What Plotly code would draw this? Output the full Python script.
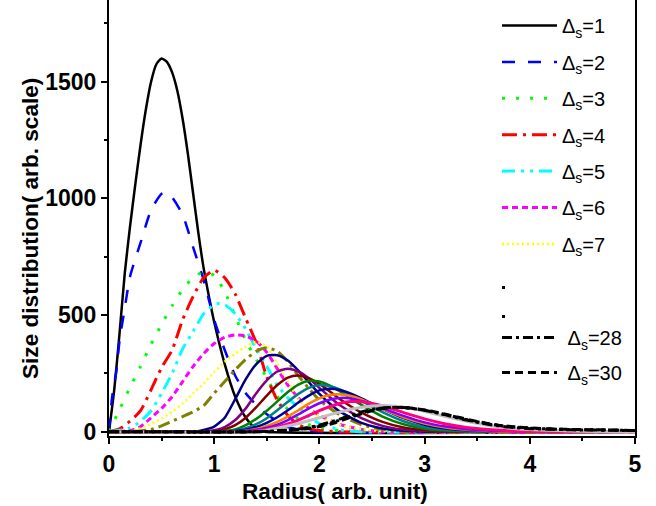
import plotly.graph_objects as go

# ---------------- data ----------------
r1 = [0, 0.05, 0.10, 0.15, 0.20, 0.25, 0.30, 0.35, 0.40, 0.45, 0.50, 0.55, 0.60, 0.65, 0.70, 0.75, 0.80, 0.85, 0.90, 0.95, 1.0, 1.1, 1.2, 1.3, 1.4, 1.5, 5.0]
v1 = [0, 180, 420, 680, 880, 1060, 1230, 1380, 1500, 1575, 1600, 1585, 1540, 1460, 1340, 1190, 1020, 850, 700, 580, 470, 290, 150, 60, 10, 0, 0]

r2 = [0, 0.03, 0.07, 0.1, 0.15, 0.2, 0.3, 0.4, 0.5, 0.55, 0.6, 0.7, 0.8, 0.9, 1.0, 1.1, 1.2, 1.3, 1.4, 1.5, 1.7, 2.0, 5.0]
v2 = [0, 150, 260, 390, 530, 665, 810, 950, 1020, 1025, 1005, 930, 790, 650, 480, 350, 240, 165, 115, 75, 20, 0, 0]

r3 = [0, 0.1, 0.2, 0.3, 0.4, 0.5, 0.6, 0.7, 0.8, 0.9, 1.0, 1.1, 1.2, 1.3, 1.4, 1.5, 1.6, 1.7, 1.8, 1.9, 2.0, 2.2, 2.4, 5.0]
v3 = [0, 95, 190, 280, 375, 460, 540, 610, 660, 685, 670, 600, 495, 390, 310, 230, 150, 95, 55, 30, 15, 4, 0, 0]

r4 = [0, 0.1, 0.2, 0.3, 0.4, 0.5, 0.6, 0.7, 0.8, 0.9, 1.0, 1.1, 1.2, 1.3, 1.4, 1.5, 1.6, 1.7, 1.8, 1.9, 2.0, 2.2, 5.0]
v4 = [0, 12, 45, 90, 180, 275, 350, 480, 580, 660, 692, 660, 590, 485, 380, 235, 135, 70, 30, 12, 5, 0, 0]

r5 = [0, 0.2, 0.3, 0.4, 0.5, 0.6, 0.7, 0.8, 0.9, 1.0, 1.05, 1.1, 1.2, 1.3, 1.4, 1.5, 1.6, 1.7, 1.8, 1.9, 2.0, 2.2, 2.4, 5.0]
v5 = [0, 15, 45, 90, 165, 250, 355, 430, 505, 545, 550, 545, 505, 440, 355, 280, 200, 145, 105, 65, 35, 8, 0, 0]

r6 = [0, 0.2, 0.3, 0.4, 0.5, 0.6, 0.7, 0.8, 0.9, 1.0, 1.1, 1.2, 1.3, 1.4, 1.5, 1.6, 1.7, 1.8, 1.9, 2.0, 2.2, 2.4, 2.6, 5.0]
v6 = [0, 5, 22, 60, 100, 150, 215, 280, 335, 378, 405, 415, 410, 388, 340, 270, 200, 145, 100, 70, 30, 10, 0, 0]

r7 = [0, 0.2, 0.3, 0.4, 0.5, 0.6, 0.7, 0.8, 0.9, 1.0, 1.1, 1.2, 1.3, 1.4, 1.5, 1.6, 1.7, 1.8, 1.9, 2.0, 2.2, 2.4, 2.6, 2.8, 5.0]
v7 = [0, 3, 14, 34, 56, 86, 121, 164, 207, 255, 300, 335, 365, 385, 365, 290, 215, 140, 95, 65, 28, 10, 3, 0, 0]

r8 = [0, 0.2, 0.4, 0.5, 0.6, 0.7, 0.8, 0.9, 1.0, 1.1, 1.2, 1.3, 1.4, 1.5, 1.6, 1.7, 1.8, 1.9, 2.0, 2.2, 2.4, 2.6, 2.8, 5.0]
v8 = [0, 0, 10, 25, 45, 65, 85, 112, 165, 215, 265, 310, 345, 360, 345, 300, 240, 185, 135, 70, 30, 10, 0, 0]

r9 = [0, 0.8, 0.9, 1.0, 1.1, 1.2, 1.3, 1.4, 1.5, 1.6, 1.7, 1.8, 1.9, 2.0, 2.1, 2.2, 2.4, 2.6, 2.8, 3.0, 5.0]
v9 = [0, 0, 8, 22, 60, 140, 225, 290, 325, 328, 305, 262, 212, 162, 120, 85, 38, 14, 4, 0, 0]

r10 = [0, 0.9, 1.0, 1.1, 1.2, 1.3, 1.4, 1.5, 1.6, 1.7, 1.8, 1.9, 2.0, 2.1, 2.2, 2.4, 2.6, 2.8, 3.0, 3.2, 5.0]
v10 = [0, 0, 6, 20, 50, 100, 165, 220, 258, 270, 258, 228, 188, 148, 112, 58, 25, 9, 3, 0, 0]

r11 = [0, 1.0, 1.1, 1.2, 1.3, 1.4, 1.5, 1.6, 1.7, 1.8, 1.9, 2.0, 2.1, 2.2, 2.3, 2.4, 2.6, 2.8, 3.0, 3.2, 3.4, 5.0]
v11 = [0, 0, 10, 28, 60, 105, 155, 200, 232, 241, 230, 205, 172, 138, 108, 82, 42, 18, 7, 2, 0, 0]

r12 = [0, 1.0, 1.2, 1.3, 1.4, 1.5, 1.6, 1.7, 1.8, 1.9, 2.0, 2.1, 2.2, 2.3, 2.4, 2.6, 2.8, 3.0, 3.2, 3.4, 3.6, 5.0]
v12 = [0, 0, 10, 28, 55, 90, 130, 170, 202, 218, 215, 198, 172, 143, 115, 65, 32, 13, 5, 1, 0, 0]

r13 = [0, 1.0, 1.2, 1.3, 1.4, 1.5, 1.6, 1.7, 1.8, 1.9, 2.0, 2.1, 2.2, 2.3, 2.4, 2.6, 2.8, 3.0, 3.2, 3.4, 3.6, 5.0]
v13 = [0, 0, 5, 15, 32, 58, 92, 128, 162, 188, 200, 195, 180, 158, 132, 84, 45, 20, 8, 3, 0, 0]

r14 = [0, 1.1, 1.3, 1.4, 1.5, 1.6, 1.7, 1.8, 1.9, 2.0, 2.1, 2.2, 2.3, 2.4, 2.5, 2.6, 2.8, 3.0, 3.2, 3.4, 3.6, 3.8, 5.0]
v14 = [0, 0, 8, 20, 38, 62, 92, 125, 155, 177, 184, 178, 163, 143, 120, 98, 58, 30, 14, 6, 2, 0, 0]

r15 = [0, 1.2, 1.4, 1.5, 1.6, 1.7, 1.8, 1.9, 2.0, 2.1, 2.2, 2.3, 2.4, 2.5, 2.6, 2.8, 3.0, 3.2, 3.4, 3.6, 3.8, 5.0]
v15 = [0, 0, 12, 25, 42, 65, 92, 120, 143, 157, 160, 153, 138, 118, 98, 62, 35, 18, 8, 3, 0, 0]

r16 = [0, 1.2, 1.4, 1.5, 1.6, 1.7, 1.8, 1.9, 2.0, 2.1, 2.2, 2.3, 2.4, 2.5, 2.6, 2.8, 3.0, 3.2, 3.4, 3.6, 3.8, 4.0, 5.0]
v16 = [0, 0, 8, 17, 30, 50, 74, 100, 122, 138, 145, 142, 132, 117, 100, 68, 40, 22, 11, 5, 2, 0, 0]

r17 = [0, 1.3, 1.5, 1.6, 1.7, 1.8, 1.9, 2.0, 2.1, 2.2, 2.3, 2.4, 2.5, 2.6, 2.8, 3.0, 3.2, 3.4, 3.6, 3.8, 4.0, 4.2, 5.0]
v17 = [0, 0, 10, 20, 33, 50, 70, 90, 108, 122, 129, 128, 121, 110, 82, 55, 33, 18, 9, 4, 1, 0, 0]

r19 = [0, 1.4, 1.6, 1.8, 2.0, 2.2, 2.4, 2.6, 2.8, 3.0, 3.2, 3.4, 3.6, 3.8, 4.0, 4.4, 4.8, 5.0]
v19 = [0, 0, 15, 35, 60, 85, 105, 112, 105, 88, 65, 45, 28, 16, 9, 3, 0, 0]

r28 = [0, 1.4, 1.6, 1.8, 2.0, 2.2, 2.4, 2.6, 2.8, 3.0, 3.2, 3.4, 3.6, 3.8, 4.0, 4.2, 4.4, 4.6, 4.8, 5.0]
v28 = [0, 0, 4, 12, 28, 55, 85, 102, 104, 92, 72, 50, 32, 20, 13, 10, 8, 7, 6, 5]

r29 = [0, 1.45, 1.65, 1.85, 2.05, 2.25, 2.45, 2.65, 2.85, 3.05, 3.25, 3.45, 3.65, 3.85, 4.05, 4.25, 4.45, 4.65, 4.85, 5.0]
v29 = [0, 0, 4, 13, 30, 58, 88, 103, 102, 88, 68, 47, 30, 20, 14, 11, 9, 8, 6, 5]

r30 = [0, 1.5, 1.7, 1.9, 2.1, 2.3, 2.5, 2.7, 2.9, 3.1, 3.3, 3.5, 3.7, 3.9, 4.1, 4.3, 4.5, 4.7, 4.9, 5.0]
v30 = [0, 0, 5, 14, 32, 62, 90, 104, 100, 85, 64, 44, 28, 19, 14, 11, 9, 8, 6, 5]

x_ticks = [0, 1, 2, 3, 4, 5]
y_ticks = [0, 500, 1000, 1500]

# ---------------- figure ----------------
FONT = "Arial, 'Liberation Sans', sans-serif"
fig = go.Figure()

def add(x, y, color, dash, width=2.5):
    fig.add_trace(go.Scatter(
        x=x, y=y, mode="lines",
        line=dict(color=color, dash=dash, width=width, shape="spline", smoothing=0.6),
        showlegend=False, hoverinfo="skip",
    ))

def leg(name, color, dash, legend, rank, width=2.5):
    fig.add_trace(go.Scatter(
        x=[None], y=[None], mode="lines",
        line=dict(color=color, dash=dash, width=width),
        name=name, legend=legend, legendgroup="g%d" % rank, legendrank=rank,
        showlegend=True, hoverinfo="skip",
    ))

sub = lambda n: "\u0394<sub>s</sub>=" + str(n)

DASH2 = "13px,13px"
DASH3 = "3px,11px"
DASH4 = "15px,6px,3px,6px"
DASH5 = "13px,6px,3px,6px,3px,6px"
DASH6 = "6px,4px"
DASH7 = "2px,3px"
DASH8 = "12px,5px,3px,5px"
DASH28 = "10px,4px,3px,4px"
DASH29 = "3px,3px"
DASH30 = "8px,5px"

add(r1, v1, "#000000", "solid")
add(r2, v2, "#0000FF", DASH2)
add(r3, v3, "#00FF00", DASH3, 3)
add(r4, v4, "#FF0000", DASH4, 3)
add(r5, v5, "#00FFFF", DASH5, 3)
add(r6, v6, "#FF00FF", DASH6, 3)
add(r7, v7, "#FFFF00", DASH7, 2.5)
add(r8, v8, "#808000", DASH8, 3)
add(r9, v9, "#000080", "solid")
add(r10, v10, "#800080", "solid")
add(r11, v11, "#800000", "solid")
add(r12, v12, "#008000", "solid")
add(r13, v13, "#008080", "solid")
add(r14, v14, "#0000A0", "solid")
add(r15, v15, "#FF8000", "solid")
add(r16, v16, "#8000FF", "solid")
add(r17, v17, "#FF0080", "solid", 3)
add(r19, v19, "#C0C0C0", "solid", 3)
add(r28, v28, "#000000", DASH28, 3)
add(r29, v29, "#000000", DASH29, 3)
add(r30, v30, "#000000", DASH30, 3)

# legend entries
leg(sub(1), "#000000", "solid", "legend", 1)
leg(sub(2), "#0000FF", DASH2, "legend", 2)
leg(sub(3), "#00FF00", DASH3, "legend", 3, 3)
leg(sub(4), "#FF0000", DASH4, "legend", 4, 3)
leg(sub(5), "#00FFFF", DASH5, "legend", 5, 3)
leg(sub(6), "#FF00FF", DASH6, "legend", 6, 3)
leg(sub(7), "#FFFF00", DASH7, "legend", 7, 2.5)
leg("\u00a0", "#000000", "3px,300px", "legend2", 8, 3)
leg("\u00a0", "#000000", "3px,300px", "legend2", 9, 3)
leg("\u00a0" + sub(28), "#000000", DASH28, "legend3", 10, 3)
leg("\u00a0" + sub(30), "#000000", DASH30, "legend3", 11, 3)

axis_common = dict(
    showline=True, linewidth=2, linecolor="#000000",
    ticks="outside", ticklen=6, tickwidth=1.5, tickcolor="#000000",
    showgrid=False, zeroline=False, automargin=False,
    tickfont=dict(family=FONT, size=23, color="#000000", weight="bold"),
)

fig.update_xaxes(range=[0, 5], tickvals=x_ticks, mirror=False,
                 minor=dict(ticks="outside", dtick=0.5, ticklen=3, tickwidth=1.5, tickcolor="#000000"),
                 **axis_common)
fig.update_yaxes(range=[-18.4, 1850.4], tickvals=y_ticks, mirror=True,
                 minor=dict(ticks="outside", dtick=250, ticklen=3, tickwidth=1.5, tickcolor="#000000"),
                 **axis_common)

SHIFT = 20  # extra space above the plot, scrolled out of the window
PW, PH = 526.0, 436.0
fig.add_annotation(text="<b>Radius( arb. unit)</b>", xref="paper", yref="paper",
                   x=(335 - 109) / PW, y=-(491 - 436) / PH, showarrow=False,
                   xanchor="center", yanchor="middle",
                   font=dict(family=FONT, size=22.6, color="#000000"))
fig.add_annotation(text="<b>Size distribution( arb. scale)</b>", xref="paper", yref="paper",
                   x=(30 - 109) / PW, y=(436 - 229) / PH, showarrow=False, textangle=-90,
                   xanchor="center", yanchor="middle",
                   font=dict(family=FONT, size=22.6, color="#000000"))

LEGFONT = dict(family=FONT, size=20, color="#000000")
LX = (497 - 109) / PW
common_leg = dict(x=LX, xanchor="left", yanchor="top", bgcolor="rgba(0,0,0,0)",
                  borderwidth=0, traceorder="grouped", itemwidth=55, font=LEGFONT)

fig.update_layout(
    width=656, height=506 + SHIFT,
    margin=dict(l=109, r=21, t=SHIFT, b=70),
    paper_bgcolor="white", plot_bgcolor="white",
    showlegend=True,
    legend=dict(y=(436 - 6) / PH, tracegroupgap=7.4, **common_leg),
    legend2=dict(y=(436 - 268) / PH, tracegroupgap=0, **common_leg),
    legend3=dict(y=(436 - 318) / PH, tracegroupgap=6, **common_leg),
)

post = ("document.body.style.margin='0';"
        "document.body.style.overflow='hidden';"
        "var d=document.getElementsByClassName('plotly-graph-div')[0];"
        "d.style.marginTop='-%dpx';" % SHIFT)
fig.write_html("out.html", post_script=post, config={"displayModeBar": False})
